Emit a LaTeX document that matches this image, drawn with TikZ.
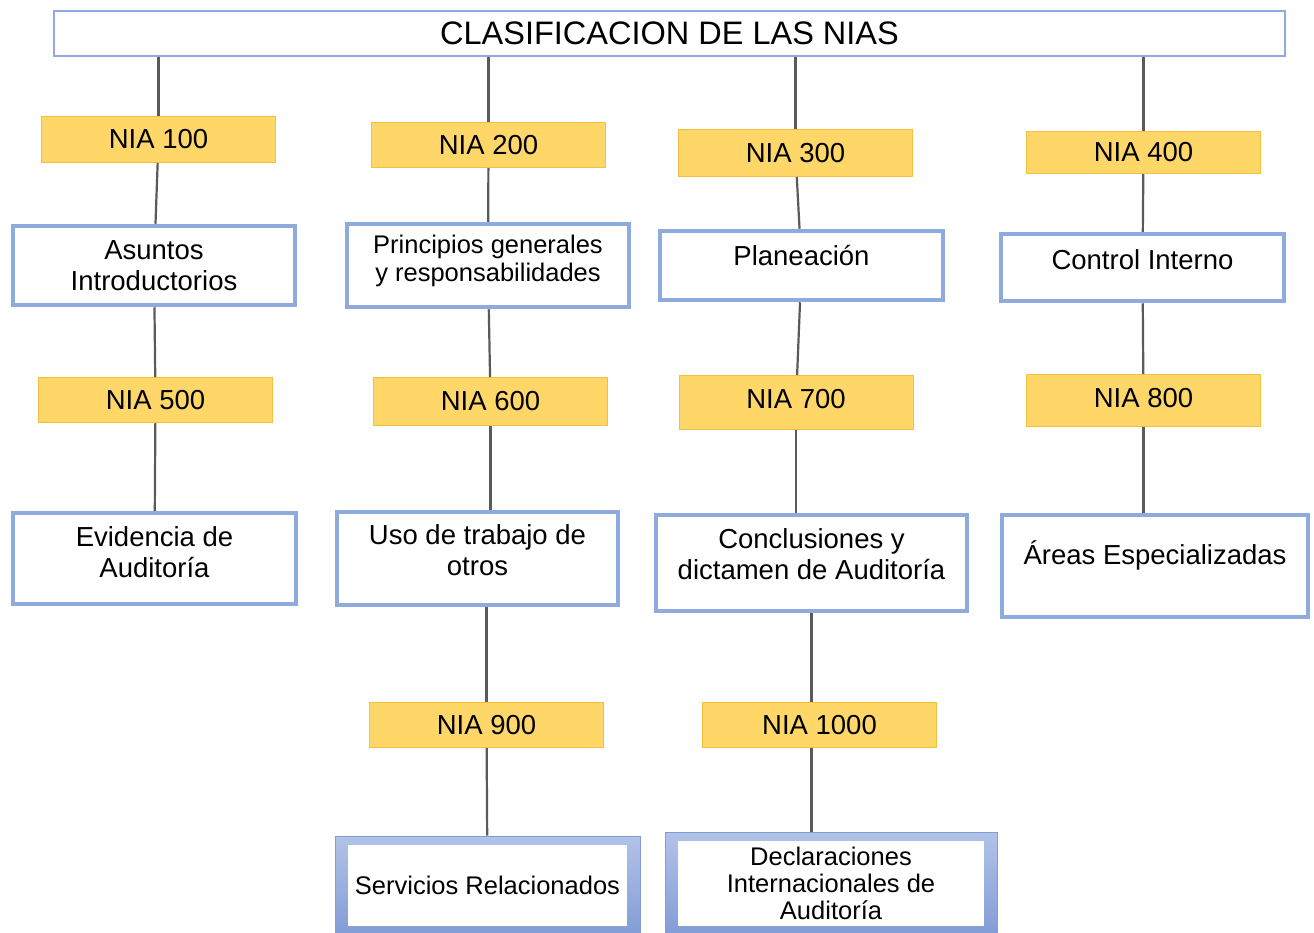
\documentclass[tikz,border=0pt]{standalone}
\usepackage{fontspec}
\setmainfont{Liberation Sans}
\usetikzlibrary{positioning}

\definecolor{niaborde}{RGB}{143,170,220}
\definecolor{niafill}{RGB}{255,215,105}
\definecolor{niaorange}{RGB}{246,192,60}
\definecolor{linkgray}{RGB}{90,90,90}
\definecolor{marcotop}{RGB}{178,195,232}
\definecolor{marcobot}{RGB}{130,156,214}

\begin{document}
\begin{tikzpicture}[x=1pt, y=-1pt,
    titulo/.style={draw=niaborde, line width=2pt, minimum width=1231pt, minimum height=45pt, font=\fontsize{32.5}{36}\selectfont},
    nia/.style={draw=niaorange, line width=1pt, fill=niafill, minimum width=234pt, font=\fontsize{27.5}{31}\selectfont},
    tema/.style={draw=niaborde, line width=4.5pt, fill=white, align=center, inner sep=0pt, font=\fontsize{27.5}{31}\selectfont},
    marco/.style={draw=marcobot, line width=1pt, top color=marcotop, bottom color=marcobot, align=center, inner sep=0pt,
        font=\fontsize{25.5}{27}\selectfont,
        path picture={\fill[white] ([shift={(13pt,-9pt)}]path picture bounding box.north west) rectangle ([shift={(-13pt,9pt)}]path picture bounding box.south east);}},
    link/.style={draw=linkgray, line width=2.2pt}
]
\useasboundingbox (0,0) rectangle (1314,932);

% Title
\node[titulo] (nias) at (669.5,33.5) {CLASIFICACION DE LAS NIAS};

% First row of NIA
\node[nia, minimum height=46pt] (n100) at (158.5,139.5) {NIA 100};
\node[nia, minimum height=45pt] (n200) at (488.5,145) {NIA 200};
\node[nia, minimum height=47pt] (n300) at (795.5,153) {NIA 300};
\node[nia, minimum height=42pt] (n400) at (1143.5,152.5) {NIA 400};

% First row of topics
\node[tema, minimum width=282pt, minimum height=79pt] (asuntos) at (154,265.5) {Asuntos\\Introductorios};
\node[tema, minimum width=282pt, minimum height=83pt, font=\fontsize{25.5}{28}\selectfont, text depth=14pt] (principios) at (488,265.5) {Principios generales\\y responsabilidades};
\node[tema, minimum width=283pt, minimum height=69pt, text depth=20pt] (planeacion) at (801.5,265.5) {Planeación};
\node[tema, minimum width=283pt, minimum height=67pt, text depth=16pt] (control) at (1142.5,267.5) {Control Interno};

% Second row of NIA
\node[nia, minimum height=45pt] (n500) at (155.5,400) {NIA 500};
\node[nia, minimum height=48pt] (n600) at (490.5,401.5) {NIA 600};
\node[nia, minimum height=54pt, text depth=8pt] (n700) at (796,402.5) {NIA 700};
\node[nia, minimum height=52pt, text depth=6pt] (n800) at (1143.5,400.5) {NIA 800};

% Second row of topics
\node[tema, minimum width=283pt, minimum height=91pt, text depth=12pt] (evidencia) at (154.5,558.5) {Evidencia de\\Auditoría};
\node[tema, minimum width=281pt, minimum height=93pt, text depth=16pt] (uso) at (477.5,558.5) {Uso de trabajo de\\otros};
\node[tema, minimum width=311pt, minimum height=96pt, text depth=18pt] (conclusiones) at (811.5,563) {Conclusiones y\\dictamen de Auditoría};
\node[tema, minimum width=306pt, minimum height=102pt, text depth=26pt] (areas) at (1155,566) {Áreas Especializadas};

% Third row of NIA
\node[nia, minimum height=45pt] (n900) at (486.5,725) {NIA 900};
\node[nia, minimum height=45pt] (n1000) at (819.5,725) {NIA 1000};

% Bottom boxes
\node[marco, minimum width=305pt, minimum height=99pt] (servicios) at (487.5,885.5) {Servicios Relacionados};
\node[marco, minimum width=332pt, minimum height=103pt] (declaraciones) at (831,883.5) {Declaraciones\\Internacionales de\\Auditoría};

% Connectors
\draw[link] (nias.south -| n100) -- (n100);
\draw[link] (nias.south -| n200) -- (n200);
\draw[link] (nias.south -| n300) -- (n300);
\draw[link] (nias.south -| n400) -- (n400);

\draw[link] (n100) -- (asuntos);
\draw[link] (n200) -- (principios);
\draw[link] (n300) -- (planeacion);
\draw[link] (n400) -- (control);

\draw[link] (asuntos) -- (n500);
\draw[link] (principios) -- (n600);
\draw[link] (planeacion) -- (n700);
\draw[link] (control) -- (n800);

\draw[link] (n500) -- (evidencia);
\draw[link] (n600) -- (uso.north -| n600);
\draw[link] (n700) -- (conclusiones.north -| n700);
\draw[link] (n800) -- (areas.north -| n800);

\draw[link] (uso.south -| n900) -- (n900);
\draw[link] (conclusiones) -- (n1000.north -| conclusiones);

\draw[link] (n900) -- (servicios);
\draw[link] (n1000.south -| conclusiones) -- (declaraciones.north -| conclusiones);

\end{tikzpicture}
\end{document}
